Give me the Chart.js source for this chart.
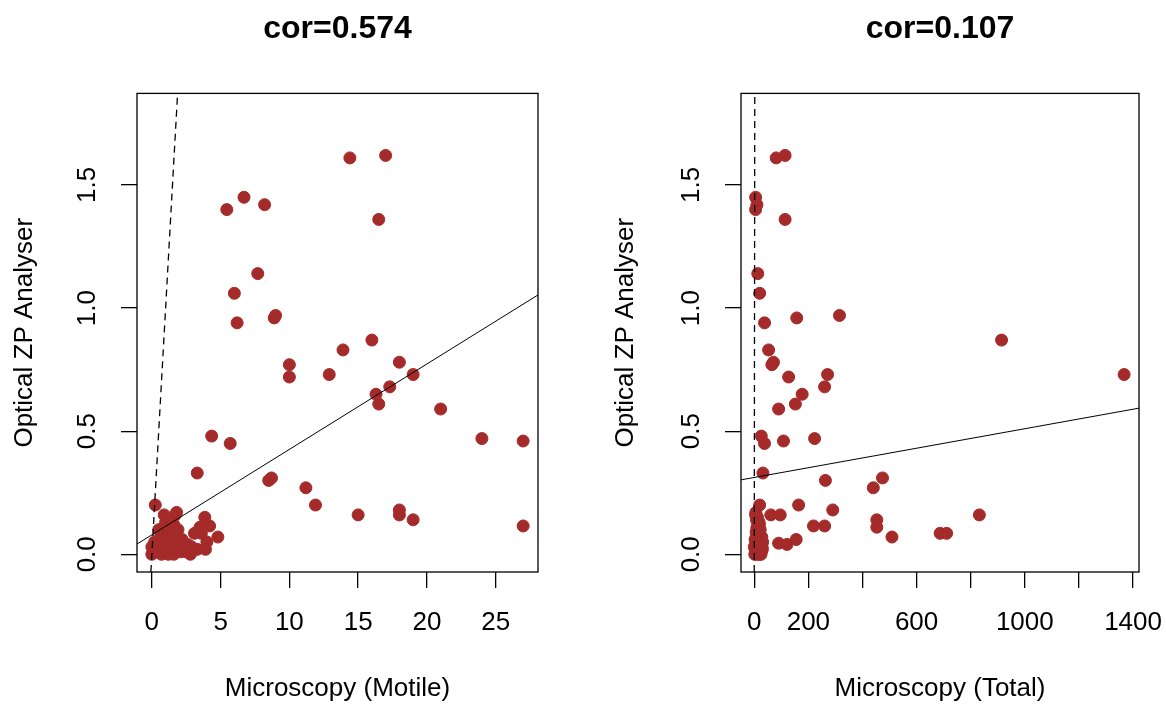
<!DOCTYPE html>
<html>
<head>
<meta charset="utf-8">
<title>Optical ZP Analyser vs Microscopy</title>
<script src="https://cdn.jsdelivr.net/npm/chart.js@4.4.1/dist/chart.umd.min.js"></script>
<style>
  html, body { margin: 0; padding: 0; background: #fff; }
  #wrap { position: relative; width: 1166px; height: 705px; }
  #wrap canvas { position: absolute; top: 0; }
  #motile { left: 0; }
  #total { left: 583px; }
</style>
</head>
<body>
<div id="wrap">
  <canvas id="motile" width="583" height="705"></canvas>
  <canvas id="total" width="583" height="705"></canvas>
</div>
<script>
// one entry per sample: analyser reading, motile count, total count
const zpReading = [
  1.61, 1.62, 1.45, 1.40, 1.42, 1.36, 1.14, 1.06, 0.94, 0.96,
  0.97, 0.87, 0.83, 0.77, 0.78, 0.72, 0.73, 0.73, 0.68, 0.65,
  0.61, 0.59, 0.47, 0.48, 0.45, 0.46, 0.33, 0.30, 0.31, 0.27,
  0.20, 0.20, 0.18, 0.16, 0.16, 0.14, 0.115, 0.16, 0.16, 0.14,
  0.15, 0.10, 0.11, 0.115, 0.07, 0.085, 0.085, 0.06, 0.045, 0.04,
  0.00, 0.02, 0.05, 0.03, 0.01, 0.03, 0.00, 0.06, 0.11, 0.02,
  0.13, 0.08, 0.00, 0.05, 0.10, 0.03, 0.00, 0.12, 0.07, 0.17,
  0.02, 0.10, 0.01, 0.03, 0.01, 0.00, 0.03, 0.02, 0.02, 0.05,
  0.06, 0.09
];
const motileCount = [
  14.4, 17.0, 6.7, 5.45, 8.2, 16.5, 7.7, 6.0, 6.2, 8.9,
  9.0, 16.0, 13.9, 10.0, 18.0, 10.0, 12.9, 19.0, 17.3, 16.3,
  16.5, 21.0, 24.0, 4.35, 5.7, 27.0, 3.3, 8.5, 8.7, 11.2,
  11.9, 0.25, 18.0, 15.0, 18.0, 19.0, 27.0, 0.9, 1.7, 1.3,
  3.85, 0.5, 3.5, 4.2, 4.8, 3.1, 3.6, 2.2, 2.0, 2.6,
  0.0, 0.1, 0.2, 0.0, 0.3, 0.6, 0.7, 0.8, 0.9, 1.0,
  1.0, 1.1, 1.2, 1.2, 1.4, 1.5, 1.6, 1.6, 1.7, 1.8,
  1.8, 1.9, 2.1, 2.3, 2.5, 2.8, 2.9, 3.3, 3.9, 4.0,
  0.5, 1.3
];
const totalCount = [
  81, 114, 5, 5, 10, 114, 13, 20, 38, 157,
  315, 914, 53, 65, 71, 127, 271, 1367, 260, 177,
  152, 90, 223, 26, 38, 108, 32, 263, 474, 440,
  164, 20, 290, 832, 96, 453, 260, 5, 61, 8,
  12, 10, 453, 219, 509, 687, 711, 155, 90, 121,
  2, 4, 6, 0, 8, 12, 5, 15, 10, 14,
  18, 9, 20, 16, 22, 12, 25, 19, 28, 6,
  30, 14, 26, 11, 24, 17, 29, 21, 27, 31,
  3, 7
];

// axis limits and ticks
const zpRange = [-0.072, 1.872];
const motileRange = [-1.08, 28.08];
const totalRange = [-49, 1422];
const zpTicks = [0, 0.5, 1.0, 1.5];
const zpTickLabels = ['0.0', '0.5', '1.0', '1.5'];
const motileTicks = [0, 5, 10, 15, 20, 25];
const motileTickLabels = ['0', '5', '10', '15', '20', '25'];
const totalTicks = [0, 200, 400, 600, 800, 1000, 1200, 1400];
const totalTickLabels = ['0', '200', '', '600', '', '1000', '', '1400'];

// least squares fits (intercept, slope) and correlations
const motileFit = [0.079, 0.0347];
const totalFit = [0.312, 0.000198];
const corText = ['cor=0.574', 'cor=0.107'];

const FONT = "'Liberation Sans', Arial, Helvetica, sans-serif";
const POINT_COLOR = '#A52A2A';

// plot frame drawn over the points, like box() in base graphics
const frameBox = {
  id: 'frameBox',
  afterDatasetsDraw(chart) {
    const { ctx, chartArea: a } = chart;
    ctx.save();
    ctx.strokeStyle = '#000';
    ctx.lineWidth = 1.3;
    ctx.strokeRect(a.left, a.top, a.right - a.left, a.bottom - a.top);
    ctx.restore();
  }
};

function makePanel(canvasId, p) {
  const points = p.xValues.map((x, i) => ({ x: x, y: zpReading[i] }));
  const fitLine = p.xRange.map(x => ({ x: x, y: p.fit[0] + p.fit[1] * x }));
  const identityLine = zpRange.map(v => ({ x: v, y: v }));

  return new Chart(document.getElementById(canvasId), {
    type: 'scatter',
    data: {
      datasets: [
        {
          data: identityLine,
          showLine: true,
          borderColor: '#000',
          borderWidth: 1.3,
          borderDash: [7, 5],
          pointRadius: 0,
          clip: 0
        },
        {
          data: fitLine,
          showLine: true,
          borderColor: '#000',
          borderWidth: 1,
          pointRadius: 0,
          clip: 0
        },
        {
          data: points,
          backgroundColor: POINT_COLOR,
          borderColor: POINT_COLOR,
          borderWidth: 1,
          pointRadius: 6,
          pointHoverRadius: 6
        }
      ]
    },
    options: {
      responsive: false,
      animation: false,
      events: [],
      layout: { padding: { top: 0, left: 0, right: p.rightPad, bottom: 0 } },
      plugins: {
        legend: { display: false },
        tooltip: { enabled: false },
        title: {
          display: true,
          text: p.title,
          fullSize: false,
          color: '#000',
          font: { family: FONT, size: 32, weight: 'bold' },
          padding: { top: 10, bottom: 45 }
        }
      },
      scales: {
        x: {
          type: 'linear',
          min: p.xRange[0],
          max: p.xRange[1],
          afterBuildTicks: s => { s.ticks = p.xTicks.map(v => ({ value: v })); },
          afterFit: s => { s.height = 133; s.paddingLeft = 0; s.paddingRight = 0; },
          grid: { drawOnChartArea: false, drawTicks: true, tickLength: 16, color: '#000', lineWidth: 1.3 },
          border: { display: false },
          ticks: {
            autoSkip: false,
            maxRotation: 0,
            padding: 19,
            color: '#000',
            font: { family: FONT, size: 26 },
            callback: (v, i) => p.xTickLabels[i]
          },
          title: {
            display: true,
            text: p.xTitle,
            color: '#000',
            font: { family: FONT, size: 26 },
            padding: { top: 0, bottom: 1 }
          }
        },
        y: {
          type: 'linear',
          min: zpRange[0],
          max: zpRange[1],
          afterBuildTicks: s => { s.ticks = zpTicks.map(v => ({ value: v })); },
          afterFit: s => { s.width = p.yAxisWidth; s.paddingTop = 0; s.paddingBottom = 0; },
          grid: { drawOnChartArea: false, drawTicks: true, tickLength: 16, color: '#000', lineWidth: 1.3 },
          border: { display: false },
          ticks: {
            autoSkip: false,
            minRotation: 90,
            maxRotation: 90,
            crossAlign: 'center',
            padding: 15,
            color: '#000',
            font: { family: FONT, size: 26 },
            callback: (v, i) => zpTickLabels[i]
          },
          title: {
            display: true,
            text: 'Optical ZP Analyser',
            color: '#000',
            font: { family: FONT, size: 26 },
            padding: { top: p.yTitlePad, bottom: 0 }
          }
        }
      }
    },
    plugins: [frameBox]
  });
}

makePanel('motile', {
  xValues: motileCount,
  xRange: motileRange,
  xTicks: motileTicks,
  xTickLabels: motileTickLabels,
  xTitle: 'Microscopy (Motile)',
  fit: motileFit,
  title: corText[0],
  yAxisWidth: 137,
  yTitlePad: 9,
  rightPad: 45
});

makePanel('total', {
  xValues: totalCount,
  xRange: totalRange,
  xTicks: totalTicks,
  xTickLabels: totalTickLabels,
  xTitle: 'Microscopy (Total)',
  fit: totalFit,
  title: corText[1],
  yAxisWidth: 158,
  yTitlePad: 27,
  rightPad: 27
});
</script>
</body>
</html>
